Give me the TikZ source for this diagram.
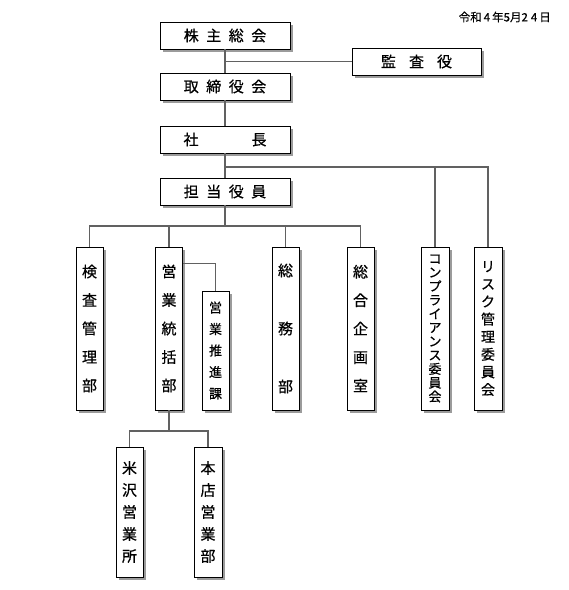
\documentclass[tikz,border=0pt]{standalone}
\usepackage{fontspec}
\setmainfont{Noto Sans CJK JP}[FakeBold=0.6]
\usetikzlibrary{shadows}
\begin{document}
\begin{tikzpicture}[x=1pt,y=-1pt,
  box/.style={draw=black,line width=0.9pt,fill=white,inner sep=0pt,
    drop shadow={shadow xshift=2.5pt,shadow yshift=-3pt,fill=black!60,opacity=0.65}},
  hbox/.style={box,minimum width=130pt,minimum height=27pt,font=\fontsize{15}{18}\selectfont},
  vbox/.style={box,minimum width=27pt,align=center},
  conn/.style={draw=black!62,line width=1.5pt}]
\useasboundingbox (0,0) rectangle (569,590);
% date
\node[anchor=east,inner sep=0pt,font=\fontsize{11.5}{13}\selectfont] (date) at (551,17) {令和\hspace{2pt}4\hspace{2pt}年5月2\hspace{3pt}4\hspace{2pt}日};
% top boxes
\node[hbox] (kabu) at (225,35.5) {株\hspace{7.5pt}主\hspace{7.5pt}総\hspace{7.5pt}会};
\node[hbox,minimum width=129pt] (kansa) at (416.5,61.5) {監\hspace{13pt}査\hspace{13pt}役};
\node[hbox] (tori) at (225,86.5) {取\hspace{7.5pt}締\hspace{7.5pt}役\hspace{7.5pt}会};
\node[hbox] (sha) at (225,139.5) {社\hspace{53pt}長};
\node[hbox] (tanto) at (225,191.5) {担\hspace{7.5pt}当\hspace{7.5pt}役\hspace{7.5pt}員};
% vertical boxes
\node[vbox,minimum height=163pt,font=\fontsize{15}{28.5}\selectfont] (kensa) at (89.5,328.5) {検\\査\\管\\理\\部};
\node[vbox,minimum height=163pt,font=\fontsize{15}{28.5}\selectfont] (eigyo) at (169,328.5) {営\\業\\統\\括\\部};
\node[vbox,minimum height=119pt,font=\fontsize{13}{21.5}\selectfont] (suishin) at (215.5,350.5) {営\\業\\推\\進\\課};
\node[vbox,minimum height=163pt,font=\fontsize{15}{58}\selectfont] (somu) at (285.5,328.5) {総\\務\\部};
\node[vbox,minimum height=163pt,font=\fontsize{15}{28.5}\selectfont] (kikaku) at (360.5,328.5) {総\\合\\企\\画\\室};
\node[vbox,minimum height=163pt,minimum width=28pt,font=\fontsize{13}{13.8}\selectfont] (compl) at (435,328.5) {コ\\ン\\プ\\ラ\\イ\\ア\\ン\\ス\\委\\員\\会};
\node[vbox,minimum height=163pt,minimum width=28pt,font=\fontsize{14}{17.6}\selectfont] (risk) at (488,328.5) {リ\\ス\\ク\\管\\理\\委\\員\\会};
\node[vbox,minimum height=130pt,font=\fontsize{15}{22}\selectfont] (yone) at (129.5,512) {米\\沢\\営\\業\\所};
\node[vbox,minimum height=130pt,minimum width=28pt,font=\fontsize{15}{22}\selectfont] (honten) at (208,512) {本\\店\\営\\業\\部};
% branch coordinates
\coordinate (b1) at (225,167);
\coordinate (b2) at (225,226);
\path (eigyo.north east) ++(0,17) coordinate (b3);
\coordinate (b4) at (169,431);
% connectors
\draw[conn] (kabu.south) -- (tori.north);
\draw[conn] (kansa.west) -- (kansa.west -| kabu.south);
\draw[conn] (tori.south) -- (sha.north);
\draw[conn] (sha.south) -- (tanto.north);
\draw[conn] (b1) -| (compl.north);
\draw[conn] (b1) -| (risk.north);
\draw[conn] (tanto.south) -- (b2);
\draw[conn] (kensa.north) |- (b2) -| (kikaku.north);
\draw[conn] (eigyo.north) -- (eigyo.north |- b2);
\draw[conn] (somu.north) -- (somu.north |- b2);
\draw[conn] (b3) -| (suishin.north);
\draw[conn] (eigyo.south) -- (b4);
\draw[conn] (yone.north) |- (b4) -| (honten.north);
\end{tikzpicture}
\end{document}
